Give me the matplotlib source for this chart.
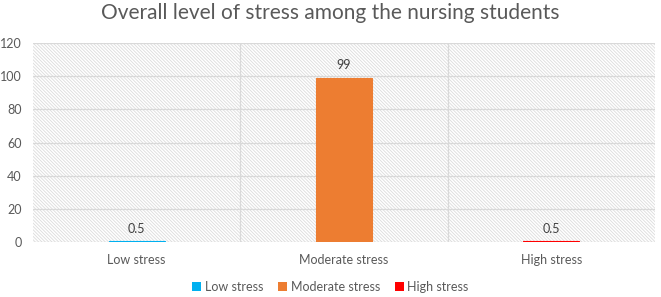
import matplotlib.pyplot as plt
from matplotlib.patches import Patch, Rectangle

plt.rcParams['font.family'] = ['Lato', 'DejaVu Sans']
plt.rcParams['hatch.color'] = '#dcdcdc'
plt.rcParams['hatch.linewidth'] = 0.6

# data
categories = ['Low stress', 'Moderate stress', 'High stress']
values = [0.5, 99, 0.5]
labels = ['0.5', '99', '0.5']
colors = ['#00b0f0', '#ed7d31', '#ff0000']
yticks = [0, 20, 40, 60, 80, 100, 120]

fig = plt.figure(figsize=(6.61, 2.97), dpi=100)
ax = fig.add_axes([33 / 661, 1 - 242 / 297, 622 / 661, 199 / 297])

# hatched plot background
ax.add_patch(Rectangle((0, 0), 1, 1, transform=ax.transAxes, facecolor='white',
                       edgecolor='#dcdcdc', hatch='\\' * 10, linewidth=0, zorder=0))

ax.set_xlim(-0.5, 2.5)
ax.set_ylim(0, 120)
for y in yticks:
    ax.axhline(y, color='#d9d9d9', linewidth=0.9, zorder=1)
for x in [0.5, 1.5]:
    ax.axvline(x, color='#d9d9d9', linewidth=0.9, zorder=1)

x = list(range(len(categories)))
bars = ax.bar(x, values, width=0.27, color=colors, edgecolor=colors,
              linewidth=0.8, zorder=3)
for b, t in zip(bars, labels):
    ax.text(b.get_x() + b.get_width() / 2, b.get_height() + 4, t,
            ha='center', va='bottom', fontsize=9, color='#404040')

ax.set_xticks(x)
ax.set_xticklabels(categories, fontsize=9, color='#595959')
ax.set_yticks(yticks)
ax.set_yticklabels([str(v) for v in yticks], fontsize=9, color='#595959')
ax.tick_params(length=0, pad=9)
ax.tick_params(axis='y', pad=8)
for s in ax.spines.values():
    s.set_visible(False)

fig.text(0.5, 0.955, 'Overall level of stress among the nursing students',
         ha='center', va='center', fontsize=15, color='#595959')

handles = [Patch(facecolor=c) for c in colors]
fig.legend(handles, categories, loc='center', bbox_to_anchor=(0.5, 1 - 287 / 297),
           ncol=3, frameon=False, fontsize=9, handlelength=0.7, handleheight=0.7,
           handletextpad=0.3, columnspacing=1.2, labelcolor='#595959')

fig.savefig('out.png', dpi=100)
